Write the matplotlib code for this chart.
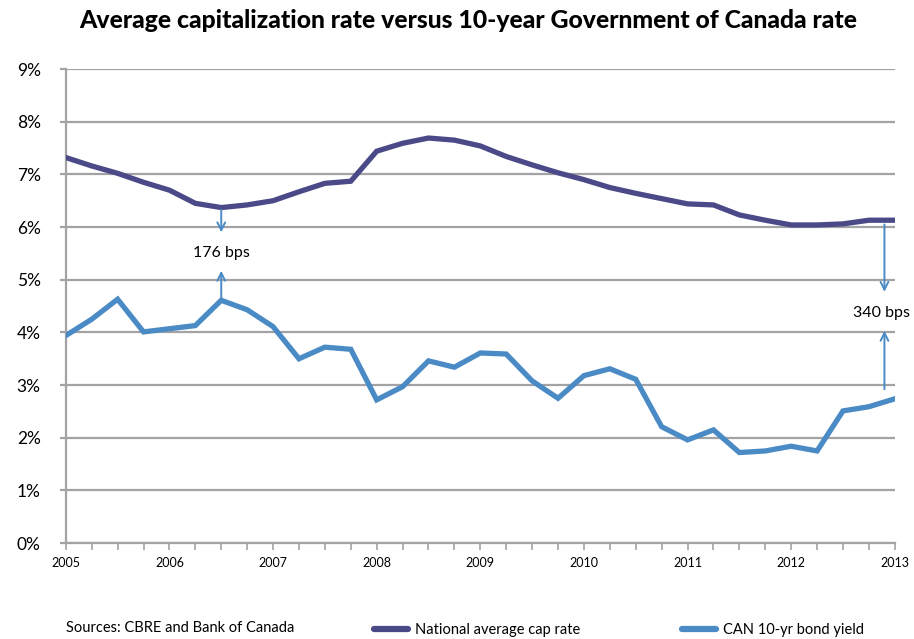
import matplotlib
matplotlib.use("Agg")
import matplotlib.pyplot as plt
from matplotlib.lines import Line2D
import numpy as np

plt.rcParams['font.family'] = ['Lato', 'DejaVu Sans']

# quarterly observations, 2005 Q1 through 2013 Q1
quarters = np.arange(2005, 2013.01, 0.25)

cap_rate = [7.32, 7.16, 7.02, 6.85, 6.70, 6.45, 6.37, 6.42, 6.50, 6.67, 6.83,
            6.87, 7.44, 7.59, 7.69, 7.65, 7.54, 7.34, 7.18, 7.03, 6.90, 6.75,
            6.64, 6.54, 6.44, 6.42, 6.23, 6.13, 6.04, 6.04, 6.06, 6.13, 6.13]

bond_yield = [3.94, 4.25, 4.63, 4.01, 4.07, 4.13, 4.61, 4.43, 4.11, 3.50, 3.72,
              3.68, 2.72, 2.97, 3.46, 3.34, 3.61, 3.59, 3.08, 2.75, 3.18, 3.31,
              3.11, 2.21, 1.96, 2.15, 1.72, 1.75, 1.84, 1.75, 2.51, 2.59, 2.74]

years = list(range(2005, 2014))
pct_ticks = list(range(0, 10))

purple = '#4b4a88'
blue = '#4a8bc5'
grey = '#a3a3a5'

fig = plt.figure(figsize=(9.14, 6.39), dpi=100)
ax = fig.add_axes([0.072, 0.150, 0.907, 0.742])

ax.plot(quarters, cap_rate, color=purple, lw=3.8, solid_joinstyle='miter', zorder=3)
ax.plot(quarters, bond_yield, color=blue, lw=3.8, solid_joinstyle='miter', zorder=3)

ax.set_xlim(2005, 2013)
ax.set_ylim(0, 9)
ax.set_yticks(pct_ticks)
ax.set_yticklabels([f'{p}%' for p in pct_ticks], fontsize=12.5)
ax.set_xticks(years)
ax.set_xticklabels([str(y) for y in years], fontsize=9)
ax.set_xticks(quarters, minor=True)
ax.yaxis.grid(True, color=grey, lw=1.6)
ax.set_axisbelow(True)

for side in ['top', 'right']:
    ax.spines[side].set_visible(False)
for side in ['left', 'bottom']:
    ax.spines[side].set_color(grey)
    ax.spines[side].set_linewidth(1.6)
ax.tick_params(axis='y', length=4, width=1.6, color=grey, pad=14)
ax.tick_params(axis='x', which='both', length=5, width=1.2, color=grey, pad=5)

# spread annotations
arrow = dict(arrowstyle='->', color=blue, lw=1.4, shrinkA=0, shrinkB=0,
             mutation_scale=14)
ax.annotate('', xy=(2006.5, 5.9), xytext=(2006.5, 6.33), arrowprops=arrow)
ax.annotate('', xy=(2006.5, 5.17), xytext=(2006.5, 4.66), arrowprops=arrow)
ax.text(2006.5, 5.5, '176 bps', ha='center', va='center', fontsize=11.5)

ax.annotate('', xy=(2012.9, 4.77), xytext=(2012.9, 6.05), arrowprops=arrow)
ax.annotate('', xy=(2012.9, 4.03), xytext=(2012.9, 2.92), arrowprops=arrow)
ax.text(2012.87, 4.37, '340 bps', ha='center', va='center', fontsize=11.5,
        clip_on=False)

fig.text(0.512, 0.968, 'Average capitalization rate versus 10-year Government of Canada rate',
         ha='center', va='center', fontsize=17.8, fontweight='black')

fig.text(0.072, 0.006, 'Sources: CBRE and Bank of Canada', ha='left', va='bottom',
         fontsize=10.5)

handles = [Line2D([], [], color=purple, lw=4.5, solid_capstyle='round'),
           Line2D([], [], color=blue, lw=4.5, solid_capstyle='round')]
fig.legend(handles, ['National average cap rate', 'CAN 10-yr bond yield'],
           loc='lower left', bbox_to_anchor=(0.395, -0.018), ncol=2, frameon=False,
           fontsize=10.5, handlelength=2.3, handletextpad=0.5, columnspacing=7.0)

fig.savefig('out.png', dpi=100)
